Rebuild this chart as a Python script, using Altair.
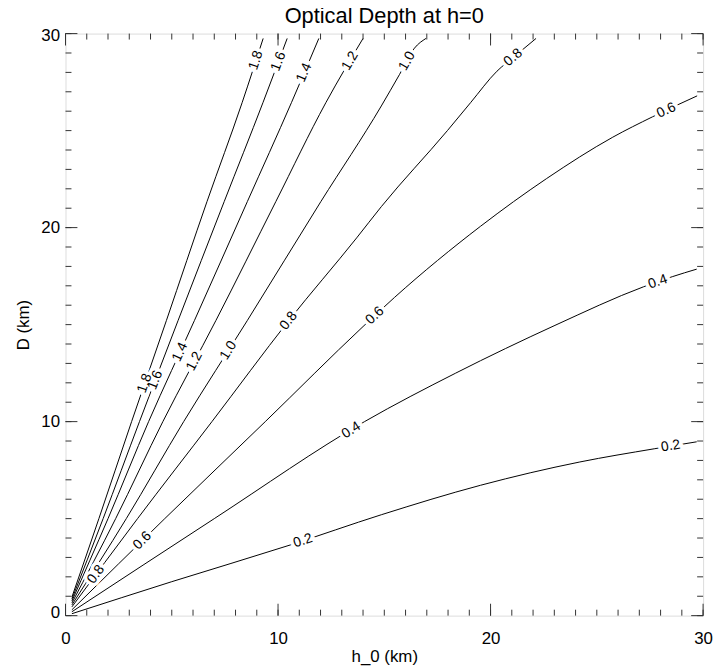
import altair as alt
import pandas as pd
import numpy as np

# ---- contour data (h_0 in km, D in km) ----
TITLE = "Optical Depth at h=0"
levels = [0.2, 0.4, 0.6, 0.8, 1.0, 1.2, 1.4, 1.6, 1.8]

c02_x = [0.3, 5.0, 10.57, 14.86, 19.53, 24.2, 27.7, 29.7]
c02_y = [0.1, 1.75, 3.64, 5.2, 6.72, 7.92, 8.6, 8.96]

c04_x = [0.3, 7.0, 14.07, 18.36, 23.03, 27.2, 28.55, 29.7]
c04_y = [0.2, 5.0, 10.0, 12.5, 14.96, 16.95, 17.47, 17.86]

c06_x = [0.3, 4.67, 9.4, 14.0, 15.48, 19.53, 22.64, 25.75, 27.62, 29.72]
c06_y = [0.3, 5.0, 10.0, 14.9, 16.4, 20.07, 22.53, 24.66, 25.71, 26.79]

c08_x = [0.3, 3.39, 6.89, 10.5, 13.7, 14.86, 17.97, 19.06, 20.3, 21.1, 22.14]
c08_y = [0.45, 5.0, 10.0, 15.2, 19.47, 21.08, 25.0, 26.44, 28.06, 28.8, 29.75]

c10_x = [0.3, 2.86, 5.56, 8.56, 12.02, 14.86, 15.72, 16.42, 16.96]
c10_y = [0.55, 5.0, 10.0, 15.22, 21.35, 26.27, 27.9, 29.25, 29.75]

c12_x = [0.3, 2.36, 4.58, 7.08, 9.9, 12.25, 14.0]
c12_y = [0.65, 5.0, 10.0, 15.22, 21.35, 26.44, 29.75]

c14_x = [0.3, 2.0, 3.91, 6.07, 8.56, 10.63, 11.92]
c14_y = [0.75, 5.0, 10.0, 15.22, 21.35, 26.44, 29.75]

c16_x = [0.3, 1.77, 3.48, 5.30, 7.47, 9.29, 10.43]
c16_y = [0.85, 5.0, 10.0, 15.22, 21.35, 26.44, 29.75]

c18_x = [0.3, 1.57, 3.11, 4.75, 6.66, 8.31, 9.3]
c18_y = [0.95, 5.0, 10.0, 15.22, 21.35, 26.44, 29.75]

contour_x = [c02_x, c04_x, c06_x, c08_x, c10_x, c12_x, c14_x, c16_x, c18_x]
contour_y = [c02_y, c04_y, c06_y, c08_y, c10_y, c12_y, c14_y, c16_y, c18_y]

# contour label positions (approximate, snapped onto the lines below)
lab_level = [0.2, 0.2, 0.4, 0.4, 0.6, 0.6, 0.6, 0.8, 0.8, 0.8,
             1.0, 1.0, 1.2, 1.2, 1.4, 1.4, 1.6, 1.6, 1.8, 1.8]
lab_x = [11.13, 28.47, 13.46, 27.85, 3.58, 14.55, 28.24, 1.33, 10.58, 21.08,
         7.63, 16.1, 6.07, 13.38, 5.37, 11.2, 4.18, 9.81, 3.65, 8.87]
lab_y = [3.99, 8.76, 9.52, 17.26, 3.91, 15.47, 26.1, 2.21, 15.13, 28.74,
         13.69, 28.57, 13.1, 28.6, 13.6, 28.0, 12.16, 28.65, 12.0, 28.65]

x_major = [0, 10, 20, 30]
y_major = [0, 10, 20, 30]
x_minor = list(range(0, 31))
y_minor = list(range(0, 31))

# ---- layout ----
W, H = 643, 587
sx, sy = W / 30.0, H / 30.0
FONT = "Liberation Sans"
FRAME = "#333333"

rows = []
for lev, xs, ys in zip(levels, contour_x, contour_y):
    for i, (a, b) in enumerate(zip(xs, ys)):
        rows.append({"level": lev, "x": a, "y": b, "i": i})
df = pd.DataFrame(rows)


def snap(xs, ys, px, py):
    X = np.array(xs) * sx
    Y = np.array(ys) * sy
    P = np.array([px * sx, py * sy])
    best = None
    for k in range(len(X) - 1):
        A = np.array([X[k], Y[k]])
        B = np.array([X[k + 1], Y[k + 1]])
        d = B - A
        t = np.clip(np.dot(P - A, d) / np.dot(d, d), 0, 1)
        Q = A + t * d
        dist = np.linalg.norm(P - Q)
        if best is None or dist < best[0]:
            best = (dist, Q, d)
    _, Q, d = best
    ang = (-np.degrees(np.arctan2(d[1], d[0]))) % 360
    return Q[0] / sx, Q[1] / sy, ang


lrows = []
for lev, px, py in zip(lab_level, lab_x, lab_y):
    k = levels.index(lev)
    qx, qy, ang = snap(contour_x[k], contour_y[k], px, py)
    lrows.append({"x": qx, "y": qy, "ang": ang, "txt": f"{lev:.1f}"})
ldf = pd.DataFrame(lrows)

# tick table: one row per tick
tick_rows = []
for v in x_minor:
    tick_rows.append({"x": v, "y": None, "kind": "xminor"})
for v in x_major:
    tick_rows.append({"x": v, "y": None, "kind": "xmajor"})
for v in y_minor:
    tick_rows.append({"x": None, "y": v, "kind": "yminor"})
for v in y_major:
    tick_rows.append({"x": None, "y": v, "kind": "ymajor"})
tdf = pd.DataFrame(tick_rows)

xsc = alt.Scale(domain=[0, 30], nice=False, zero=False)
ysc = alt.Scale(domain=[0, 30], nice=False, zero=False)

xaxis = alt.Axis(values=x_major, title="h_0 (km)", ticks=False, domain=False, grid=False,
                 labelFontSize=17, labelFont=FONT, labelColor="black", labelPadding=15,
                 labelFlush=False,
                 titleFontSize=17, titleFont=FONT, titleFontWeight="normal",
                 titleColor="black", titlePadding=2)
yaxis = alt.Axis(values=y_major, title="D (km)", ticks=False, domain=False, grid=False,
                 labelFontSize=17, labelFont=FONT, labelColor="black", labelPadding=6,
                 labelFlush=True, labelFlushOffset=6,
                 titleFontSize=17, titleFont=FONT, titleFontWeight="normal",
                 titleColor="black", titlePadding=8)

X = alt.X("x:Q", scale=xsc, axis=xaxis, title="h_0 (km)")
Y = alt.Y("y:Q", scale=ysc, axis=yaxis, title="D (km)")

lines = alt.Chart(df).mark_line(color="black", strokeWidth=1, interpolate="monotone").encode(
    x=X, y=Y, detail="level:N", order="i:Q",
)

halo = alt.Chart(ldf).mark_text(fontSize=14, font=FONT, color="white", stroke="white",
                                strokeWidth=7, align="center", baseline="middle").encode(
    x=X, y=Y, text="txt:N", angle=alt.Angle("ang:Q", scale=None),
)
labels = alt.Chart(ldf).mark_text(fontSize=14, font=FONT, color="black",
                                  align="center", baseline="middle").encode(
    x=X, y=Y, text="txt:N", angle=alt.Angle("ang:Q", scale=None),
)


def tick_layer(kind, pos):
    base = alt.Chart(tdf).transform_filter(alt.datum.kind == kind).mark_rule(color=FRAME, strokeWidth=1)
    length = 12 if "major" in kind else 6
    if kind.startswith("x"):
        if pos == "bottom":
            return base.encode(x=X, y=alt.value(H), y2=alt.value(H - length))
        return base.encode(x=X, y=alt.value(0), y2=alt.value(length))
    if pos == "left":
        return base.encode(y=Y, x=alt.value(0), x2=alt.value(length))
    return base.encode(y=Y, x=alt.value(W), x2=alt.value(W - length))


tick_layers = [
    tick_layer("xminor", "bottom"), tick_layer("xminor", "top"),
    tick_layer("xmajor", "bottom"), tick_layer("xmajor", "top"),
    tick_layer("yminor", "left"), tick_layer("yminor", "right"),
    tick_layer("ymajor", "left"), tick_layer("ymajor", "right"),
]

title_mark = alt.Chart(pd.DataFrame({"t": [TITLE]})).mark_text(
    fontSize=22, font=FONT, color="black", align="center", baseline="alphabetic"
).encode(x=alt.value(W / 2), y=alt.value(-10.5), text="t:N")

chart = alt.layer(lines, *tick_layers, halo, labels, title_mark).properties(
    width=W, height=H,
    autosize=alt.AutoSizeParams(type="none"),
    padding={"left": 58, "top": 23, "right": 10, "bottom": 50},
).configure_view(stroke=FRAME, strokeWidth=1.5).configure(background="white")

chart.save("out.html", embed_options={"renderer": "svg", "actions": False})
